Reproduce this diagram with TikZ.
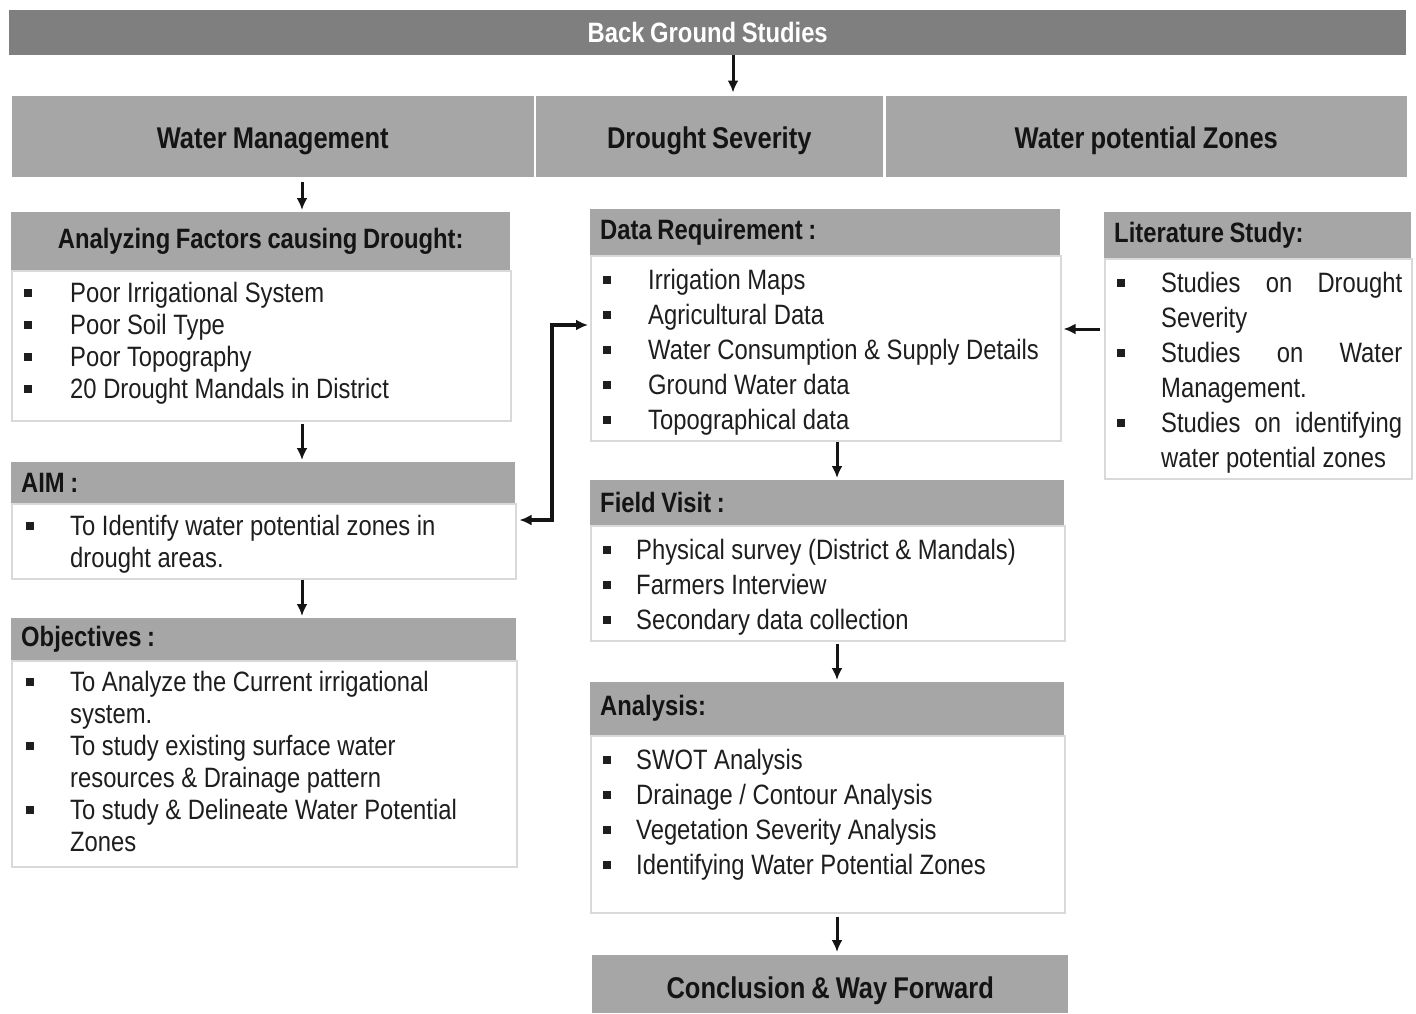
\documentclass[tikz,border=0pt]{standalone}
\usepackage{fontspec}
\setmainfont{Liberation Sans}[FakeStretch=0.85, BoldFeatures={WordSpace=0.85}]
\usetikzlibrary{arrows.meta}
\definecolor{bargray}{HTML}{7F7F7F}
\definecolor{hdrgray}{HTML}{A6A6A6}
\definecolor{bord}{HTML}{D9D9D9}
\definecolor{txtc}{HTML}{1E1E1E}
\newcommand\bul{\rule[5.5bp]{8bp}{8bp}}
\tikzset{
  hdr/.style={rectangle, fill=hdrgray, anchor=north west, inner ysep=0pt, inner xsep=10bp,
    font=\bfseries\fontsize{28bp}{32bp}\selectfont, text=black!92, align=flush left},
  big/.style={rectangle, fill=hdrgray, draw=white, line width=1.5bp, anchor=north west, inner sep=0pt,
    font=\bfseries\fontsize{30bp}{34bp}\selectfont, text=black!92, text height=24bp, text depth=0bp},
  bodybox/.style={rectangle, draw=bord, line width=1.5bp, fill=white, anchor=north west, inner sep=0pt},
  lst/.style={anchor=north west, inner sep=0pt, text=txtc},
  fa/.style={font=\fontsize{28bp}{32bp}\selectfont},
  fb/.style={font=\fontsize{28bp}{35bp}\selectfont},
  arr/.style={draw=black!92, line width=3bp, -{Latex[length=12bp,width=11bp]}},
  arrb/.style={draw=black!92, line width=3.6bp, {Latex[length=12bp,width=11bp]}-{Latex[length=12bp,width=11bp]}},
}
\begin{document}
\begin{tikzpicture}[x=1bp,y=-1bp]
\useasboundingbox (0,0) rectangle (1416,1013);
\fill[white] (0,0) rectangle (1416,1013);

% top bar
\node[rectangle, fill=bargray, anchor=north west, inner sep=0pt, minimum width=1397bp, minimum height=45bp,
  font=\bfseries\fontsize{28bp}{32bp}\selectfont, text=white] (bgs) at (9,10) {Back Ground Studies};

% top row
\node[big, minimum width=523bp, minimum height=82bp] (wm) at (10.5,94.5) {Water Management};
\node[big, minimum width=349bp, minimum height=82bp] (ds) at (534,94.5) {Drought Severity};
\node[big, minimum width=523bp, minimum height=82bp] (wpz) at (884,94.5) {Water potential Zones};

% Analyzing factors
\node[hdr, minimum width=499bp, minimum height=58bp, text width=479bp, align=flush center] (anaH) at (11,212) {Analyzing Factors causing Drought:};
\node[bodybox, minimum width=499bp, minimum height=150bp] (anaB) at (11,270) {};
\node[lst, fa] (anaT) at (24,279.6) {\begin{tabular}{@{}p{46bp}@{}l@{}}
\bul & Poor Irrigational System\\
\bul & Poor Soil Type\\
\bul & Poor Topography\\
\bul & 20 Drought Mandals in District
\end{tabular}};

% AIM
\node[hdr, minimum width=504bp, minimum height=41bp, text width=484bp] (aimH) at (11,462) {AIM :};
\node[bodybox, minimum width=504bp, minimum height=75bp] (aimB) at (11,503) {};
\node[lst, fa] (aimT) at (26,512.6) {\begin{tabular}{@{}p{44bp}@{}l@{}}
\bul & To Identify water potential zones in\\
 & drought areas.
\end{tabular}};

% Objectives
\node[hdr, minimum width=505bp, minimum height=42bp, text width=485bp] (objH) at (11,618) {Objectives :};
\node[bodybox, minimum width=505bp, minimum height=206bp] (objB) at (11,660) {};
\node[lst, fa] (objT) at (26,668.6) {\begin{tabular}{@{}p{44bp}@{}l@{}}
\bul & To Analyze the Current irrigational\\
 & system.\\
\bul & To study existing surface water\\
 & resources \& Drainage pattern\\
\bul & To study \& Delineate Water Potential\\
 & Zones
\end{tabular}};

% Data requirement
\node[hdr, minimum width=470bp, minimum height=46bp, text width=450bp] (dataH) at (590,209) {Data Requirement :};
\node[bodybox, minimum width=470bp, minimum height=185bp] (dataB) at (590,255) {};
\node[lst, fb] (dataT) at (603,264.5) {\begin{tabular}{@{}p{45bp}@{}l@{}}
\bul & Irrigation Maps\\
\bul & Agricultural Data\\
\bul & Water Consumption \& Supply Details\\
\bul & Ground Water data\\
\bul & Topographical data
\end{tabular}};

% Literature study
\node[hdr, minimum width=307bp, minimum height=46bp, text width=287bp] (litH) at (1104,212) {Literature Study:};
\node[bodybox, minimum width=307bp, minimum height=220bp] (litB) at (1104,258) {};
\node[lst, fb] (litT) at (1117,267.5) {\begin{tabular}{@{}p{44bp}@{}l@{}}
\bul & \makebox[241bp][s]{Studies on Drought}\\
 & Severity\\
\bul & \makebox[241bp][s]{Studies on Water}\\
 & Management.\\
\bul & \makebox[241bp][s]{Studies on identifying}\\
 & water potential zones
\end{tabular}};

% Field visit
\node[hdr, minimum width=474bp, minimum height=45bp, text width=454bp] (fvH) at (590,480) {Field Visit :};
\node[bodybox, minimum width=474bp, minimum height=115bp] (fvB) at (590,525) {};
\node[lst, fb] (fvT) at (603,534.5) {\begin{tabular}{@{}p{33bp}@{}l@{}}
\bul & Physical survey (District \& Mandals)\\
\bul & Farmers Interview\\
\bul & Secondary data collection
\end{tabular}};

% Analysis
\node[hdr, minimum width=474bp, minimum height=53bp, text width=454bp] (anH) at (590,682) {Analysis:};
\node[bodybox, minimum width=474bp, minimum height=177bp] (anB) at (590,735) {};
\node[lst, fb] (anT) at (603,744.5) {\begin{tabular}{@{}p{33bp}@{}l@{}}
\bul & SWOT Analysis\\
\bul & Drainage / Contour Analysis\\
\bul & Vegetation Severity Analysis\\
\bul & Identifying Water Potential Zones
\end{tabular}};

% Conclusion
\node[rectangle, fill=hdrgray, anchor=north west, inner sep=0pt, minimum width=476bp, minimum height=58bp,
  font=\bfseries\fontsize{30bp}{34bp}\selectfont, text=black!92, text height=29bp, text depth=0bp] (conc) at (592,955) {Conclusion \& Way Forward};

% helper coordinates
\coordinate (xT) at (733,0);
\coordinate (xL) at (302,0);
\coordinate (xM) at (837,0);
\coordinate (xB) at (552,0);
\coordinate (yLit) at (0,329);
\coordinate (yA) at (0,520);
\coordinate (yD) at (0,325);

% connectors
\draw[arr, shorten >=2bp] (bgs.south -| xT) -- (ds.north -| xT);
\draw[arr, shorten <=4bp, shorten >=2bp] (wm.south -| xL) -- (anaH.north -| xL);
\draw[arr, shorten <=2bp, shorten >=2bp] (anaB.south -| xL) -- (aimH.north -| xL);
\draw[arr, shorten >=2bp] (aimB.south -| xL) -- (objH.north -| xL);
\draw[arr, shorten >=2bp] (dataB.south -| xM) -- (fvH.north -| xM);
\draw[arr, shorten <=2bp, shorten >=2bp] (fvB.south -| xM) -- (anH.north -| xM);
\draw[arr, shorten <=3bp, shorten >=3bp] (anB.south -| xM) -- (conc.north -| xM);
\draw[arr, shorten <=4bp, shorten >=2bp] (litB.west |- yLit) -- (dataB.east |- yLit);
\draw[arrb, shorten <=3bp, shorten >=2bp] (aimB.east |- yA) -- (xB |- yA) -- (xB |- yD) -- (dataB.west |- yD);
\end{tikzpicture}
\end{document}
